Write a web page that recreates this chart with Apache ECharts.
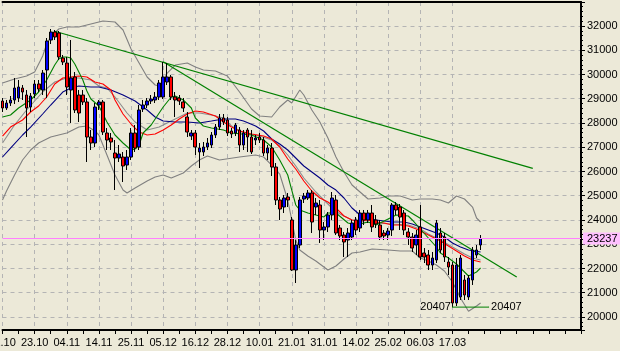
<!DOCTYPE html>
<html>
<head>
<meta charset="utf-8">
<title>Index chart</title>
<script src="https://cdn.jsdelivr.net/npm/echarts@6/dist/echarts.min.js"></script>
<style>
    html, body { margin: 0; padding: 0; background: #ECE9D8; }
    #stockCharts { width: 620px; height: 351px; }
</style>
</head>
<body>
<div id="stockCharts"></div>
<script>
// date labels, one every 8 bars
let tickLabels = ["11.10", "23.10", "04.11", "14.11", "25.11", "05.12", "16.12", "28.12",
    "10.01", "21.01", "31.01", "14.02", "25.02", "06.03", "17.03"];

// daily candles
let openPrices = [28907, 28618, 28824, 28948, 29030, 29443, 29154, 28659, 29195, 29608,
    29360, 30185, 31422, 31752, 31711, 30680, 30474, 29360, 29897, 29154,
    29154, 28866, 27422, 27175, 28742, 28866, 27587, 27381, 26762, 26556,
    26597, 26267, 26597, 27587, 27010, 28577, 28742, 28907, 28948, 29072,
    29072, 29690, 29897, 29072, 29030, 28866, 28247, 27463, 27587, 26804,
    26804, 27010, 27092, 27505, 27834, 28206, 28123, 27670, 27587, 27711,
    27092, 27711, 27422, 27298, 27422, 27298, 26762, 26968, 26185, 24824,
    24535, 24948, 24000, 21937, 22968, 24865, 24907, 25113, 24535, 24618,
    23587, 23711, 24206, 24824, 23669, 23380, 23174, 23298, 24000, 23669,
    24288, 24000, 24288, 24000, 23793, 23463, 23380, 23587, 24618, 24535,
    24288, 23504, 23298, 22968, 23711, 22638, 22556, 22143, 22350, 23463,
    23298, 22267, 22143, 20576, 20824, 21525, 20824, 21525, 22556, 22968];
let closePrices = [28618, 28824, 28948, 29443, 29484, 29278, 28618, 29113, 29608, 29402,
    30061, 31381, 31752, 31546, 30722, 30515, 29484, 29855, 28536, 28412,
    28866, 27422, 27175, 28659, 28866, 27628, 27298, 27216, 26556, 26721,
    26226, 26597, 27587, 26968, 28536, 28742, 28907, 28989, 29072, 29649,
    29897, 29897, 29072, 28948, 28907, 28618, 27628, 27587, 27010, 26968,
    27010, 27175, 27505, 27834, 28206, 28041, 27587, 27546, 27917, 27092,
    27587, 27422, 26804, 27381, 27298, 26762, 26968, 26185, 24824, 24453,
    24907, 24824, 21937, 22968, 24824, 24989, 25113, 23917, 24700, 23587,
    23711, 24206, 24907, 23463, 23339, 23092, 23463, 23876, 23587, 24288,
    24000, 24288, 23711, 23834, 23298, 23339, 23546, 24618, 24412, 24123,
    23587, 23298, 22844, 23380, 22473, 22473, 22143, 22432, 23876, 22762,
    22473, 22061, 20576, 22143, 22432, 20906, 21607, 22762, 22762, 23237];
let lowPrices = [28453, 28536, 28701, 28783, 28866, 28948, 27422, 28453, 29030, 29278,
    29154, 29030, 31257, 31422, 30598, 30391, 29154, 28000, 28412, 28041,
    28742, 26391, 26886, 27010, 28536, 27505, 26886, 26886, 25236, 26391,
    25566, 26061, 26474, 26804, 26886, 28453, 28618, 28783, 28824, 28948,
    28989, 29567, 28948, 28247, 28742, 28453, 27422, 27298, 26680, 26144,
    26639, 26886, 26968, 27381, 27711, 27917, 27463, 27381, 27463, 26804,
    26886, 26804, 26721, 27092, 27175, 26639, 26474, 25814, 24618, 24000,
    24288, 24535, 21900, 21401, 22844, 24700, 24824, 23463, 24206, 23051,
    23174, 23504, 24000, 23380, 23174, 22473, 22473, 23174, 23380, 23504,
    23793, 23876, 23504, 23669, 23174, 23174, 23174, 23339, 24206, 23587,
    23380, 22968, 22680, 22556, 22350, 22226, 21937, 21937, 22226, 22638,
    22267, 21731, 20407, 20452, 20700, 20700, 20700, 21319, 22432, 22762];
let highPrices = [29030, 28948, 29113, 29855, 29773, 29567, 29360, 29237, 29773, 29773,
    30185, 31505, 31876, 31835, 31794, 30804, 30722, 31422, 30103, 29360,
    29360, 29030, 27711, 28824, 28948, 28948, 27793, 27587, 27298, 27092,
    26804, 26886, 27793, 27917, 28742, 28948, 29030, 29154, 29278, 29773,
    30520, 30474, 29979, 29278, 29154, 29030, 28453, 27711, 27711, 27175,
    27216, 27381, 27628, 27958, 28371, 28371, 28247, 27793, 28000, 27834,
    27711, 27793, 27711, 27505, 27587, 27422, 27092, 27175, 26350, 24948,
    25030, 25113, 24123, 23174, 24948, 25113, 25236, 25236, 24907, 24824,
    23917, 24329, 25154, 25030, 23793, 23504, 23669, 24000, 24123, 24412,
    24412, 24412, 24618, 24206, 24000, 23587, 23669, 24700, 24741, 24659,
    24412, 23669, 23463, 23587, 24618, 22844, 22762, 22680, 24000, 23669,
    23463, 22473, 22267, 22432, 22556, 21731, 21731, 22886, 22968, 23380];

// indicator lines: [bar, value]
let maGreen = [[0, 28247], [2, 28329], [4, 28618], [7, 28948], [9, 29278], [10, 29525], [11, 29773],
    [13, 30391], [14, 30639], [15, 30722], [16, 30722], [17, 30680], [18, 30433], [19, 30103],
    [20, 29773], [21, 29319], [22, 28989], [24, 28701], [26, 28041], [28, 27505], [30, 27175],
    [32, 26886], [33, 26927], [34, 27092], [35, 27587], [37, 27917], [40, 28659], [42, 29072],
    [43, 29113], [45, 28948], [47, 28618], [48, 28206], [50, 27876], [52, 27793], [55, 27711],
    [57, 27587], [62, 27505], [65, 27298], [67, 27010], [69, 26474], [71, 25855], [72, 25236],
    [73, 24618], [74, 24412], [76, 24288], [78, 24206], [80, 24123], [81, 24288], [83, 24288],
    [86, 23876], [88, 23793], [91, 23917], [93, 23793], [95, 23958], [98, 24206], [101, 24165],
    [102, 24000], [104, 23628], [106, 23257], [108, 22886], [109, 22638], [111, 22432],
    [113, 22185], [115, 21855], [116, 21690], [118, 21855], [119, 22020]];
let maRed = [[0, 27463], [2, 27834], [5, 28123], [7, 28453], [9, 28701], [11, 29072], [13, 29608],
    [15, 29855], [17, 29897], [19, 29938], [21, 29897], [23, 29690], [25, 29608], [27, 29360],
    [28, 28948], [30, 28371], [32, 27958], [34, 27628], [36, 27505], [38, 27546], [40, 27711],
    [42, 27917], [44, 28165], [46, 28371], [48, 28494], [50, 28453], [53, 28288], [55, 28041],
    [57, 27834], [59, 27670], [62, 27546], [65, 27463], [67, 27340], [69, 27010], [71, 26515],
    [73, 26102], [75, 25608], [77, 25195], [79, 24907], [81, 24741], [83, 24494], [85, 24165],
    [87, 24000], [89, 23958], [91, 24000], [93, 23917], [95, 23876], [97, 23793], [99, 23793],
    [101, 23752], [103, 23628], [105, 23463], [107, 23298], [109, 23133], [111, 22927],
    [113, 22721], [115, 22515], [117, 22350], [119, 22267]];
let maBlue = [[0, 26598], [2, 26968], [5, 27505], [7, 27834], [10, 28371], [12, 28742], [15, 29278],
    [17, 29443], [19, 29525], [22, 29484], [24, 29484], [27, 29360], [30, 29154], [33, 28907],
    [36, 28536], [38, 28247], [40, 28082], [43, 28041], [46, 28041], [49, 28000], [52, 28082],
    [55, 28165], [58, 28165], [60, 28082], [63, 27876], [65, 27670], [67, 27340], [69, 27134],
    [71, 26886], [73, 26556], [75, 26226], [77, 25979], [79, 25731], [81, 25443], [83, 25236],
    [85, 24907], [87, 24494], [89, 24206], [91, 24082], [93, 24000], [95, 23958], [97, 23917],
    [100, 23917], [102, 23834], [104, 23711], [106, 23587], [108, 23463], [110, 23298],
    [112, 23051], [114, 22886], [116, 22762], [119, 22680]];
let bandMid = [[0, 27175], [3, 27917], [6, 28536], [8, 28907], [10, 29278], [13, 29690], [16, 29855],
    [19, 29855], [22, 29773], [24, 29525], [26, 29443], [28, 29072], [31, 28412], [33, 28041],
    [36, 27711], [39, 27834], [42, 28082], [46, 28412], [49, 28412], [52, 28329], [55, 28206],
    [57, 27876], [60, 27587], [64, 27463], [67, 27298], [69, 27051], [71, 26680], [73, 26226],
    [75, 25731], [78, 25154], [80, 24824], [82, 24494], [84, 24247], [87, 24000], [90, 23917],
    [93, 23876], [97, 23834], [101, 23793], [104, 23628], [106, 23422], [109, 23174],
    [112, 22886], [115, 22597], [117, 22432], [119, 22350]];
let bandUpper = [[0, 29649], [3, 29814], [6, 29938], [8, 30103], [10, 30763], [11, 31257], [12, 31546],
    [14, 31876], [16, 31959], [19, 31959], [22, 32082], [25, 32206], [28, 32165], [30, 31835],
    [32, 31051], [34, 30474], [36, 29897], [38, 29567], [39, 29525], [40, 29732], [41, 30061],
    [43, 30391], [46, 30474], [48, 30309], [50, 30185], [53, 30144], [56, 29938], [59, 29278],
    [62, 28577], [64, 28288], [67, 28247], [69, 28659], [71, 28948], [72, 28824], [74, 29360],
    [75, 29154], [77, 28536], [79, 28041], [81, 27381], [83, 26597], [85, 25979], [87, 25443],
    [89, 25154], [91, 24865], [94, 24907], [96, 24989], [99, 24989], [102, 24824], [104, 24865],
    [107, 24865], [109, 24824], [111, 24700], [113, 24989], [115, 24865], [117, 24535],
    [118, 24082], [119, 23917]];
let bandLower = [[0, 24824], [1, 25195], [3, 25855], [5, 26474], [7, 26886], [9, 27175], [12, 27422],
    [16, 27587], [19, 27834], [21, 27876], [23, 27670], [24, 27505], [26, 26680], [28, 25855],
    [30, 25236], [31, 25113], [33, 25319], [36, 25608], [38, 25772], [40, 25855], [42, 25731],
    [45, 25938], [47, 26226], [49, 26474], [51, 26639], [54, 26474], [59, 26598], [63, 26680],
    [65, 26598], [67, 26267], [69, 25896], [71, 24824], [73, 23174], [74, 22762], [76, 22515],
    [78, 22309], [80, 22061], [81, 21937], [83, 22103], [85, 22391], [87, 22638], [89, 22680],
    [92, 22803], [96, 22762], [99, 22721], [102, 22721], [104, 22432], [106, 22309], [108, 22143],
    [110, 21896], [112, 21443], [114, 20783], [116, 20236], [118, 20453], [119, 20576]];

// trend lines and marks
let trendTop = [[13, 31785], [132, 26127]];
let trendBottom = [[40, 30528], [128, 21649]];
let lastPrice = 23237;
let lowPrice = 20407;
let lowBars = [112, 121];

const BAR_SLOTS = 145;
const FONT = "'Liberation Sans', Arial, sans-serif";

function buildCategories() {
    let list = [];
    for (let i = 0; i < BAR_SLOTS; i++) {
        list.push(String(i));
    }
    return list;
}

function buildCandles() {
    let list = [];
    for (let i = 0; i < openPrices.length; i++) {
        list.push([openPrices[i], closePrices[i], lowPrices[i], highPrices[i]]);
    }
    return list;
}

function isLabelBar(index) {
    return index % 8 === 0 && index / 8 < tickLabels.length;
}

function lineSeries(name, data, color, width) {
    return {
        name: name,
        type: 'line',
        data: data,
        symbol: 'none',
        silent: true,
        lineStyle: {color: color, width: width || 1.1},
        z: 3
    };
}

let chartDom = document.getElementById('stockCharts');
let myChart = echarts.init(chartDom, null, {renderer: 'canvas'});

let option = {
    animation: false,
    backgroundColor: '#ECE9D8',
    textStyle: {fontFamily: FONT},
    grid: {
        left: 2.5,
        right: 39,
        top: 2,
        bottom: 21,
        outerBoundsMode: 'none'
    },
    xAxis: [{
        type: 'category',
        data: buildCategories(),
        boundaryGap: false,
        axisLine: {show: true, onZero: false, lineStyle: {color: '#000', width: 2}},
        axisTick: {
            show: true,
            length: 4,
            interval: function (index) {
                return index % 4 === 0;
            },
            lineStyle: {color: '#000'}
        },
        axisLabel: {
            color: '#000',
            fontSize: 11,
            fontFamily: FONT,
            margin: 7,
            showMinLabel: true,
            alignMinLabel: 'center',
            hideOverlap: false,
            interval: function (index) {
                return isLabelBar(index);
            },
            formatter: function (value, index) {
                return isLabelBar(index) ? tickLabels[index / 8] : '';
            }
        },
        splitLine: {
            show: true,
            interval: function (index) {
                return isLabelBar(index);
            },
            lineStyle: {color: '#B4B4B4', type: [4, 4], width: 1}
        }
    }, {
        // top border line
        type: 'category',
        position: 'top',
        data: buildCategories(),
        boundaryGap: false,
        axisLine: {show: true, onZero: false, lineStyle: {color: '#000', width: 2}},
        axisTick: {show: false},
        axisLabel: {show: false},
        splitLine: {show: false}
    }],
    yAxis: {
        type: 'value',
        position: 'right',
        min: 19463,
        max: 32990,
        splitNumber: 13,
        minInterval: 1000,
        maxInterval: 1000,
        axisLine: {show: true, lineStyle: {color: '#000', width: 2}},
        axisTick: {show: true, length: 4, lineStyle: {color: '#000'}},
        minorTick: {show: true, splitNumber: 5, length: 2, lineStyle: {color: '#000'}},
        axisLabel: {
            color: '#000',
            fontSize: 11,
            fontFamily: FONT,
            margin: 6,
            showMinLabel: false,
            showMaxLabel: false,
            formatter: function (value) {
                return String(value);
            }
        },
        splitLine: {show: true, lineStyle: {color: '#B4B4B4', type: [4, 4], width: 1}}
    },
    series: [
        lineSeries('bandUpper', bandUpper, '#808080'),
        lineSeries('bandLower', bandLower, '#808080'),
        lineSeries('bandMid', bandMid, '#8C8C8C'),
        {
            name: 'price',
            type: 'candlestick',
            data: buildCandles(),
            barWidth: 3.2,
            z: 4,
            itemStyle: {
                color: '#0000FF',
                color0: '#FF0000',
                borderColor: '#000',
                borderColor0: '#000',
                borderWidth: 1
            },
            markLine: {
                silent: true,
                symbol: 'none',
                lineStyle: {color: '#FF80FF', type: 'solid', width: 1},
                label: {
                    show: true,
                    position: 'end',
                    distance: 2,
                    formatter: String(lastPrice),
                    color: '#000',
                    fontSize: 11,
                    fontFamily: FONT,
                    backgroundColor: '#FFC0FF',
                    padding: [1, 3, 0, 4]
                },
                data: [{yAxis: lastPrice}]
            }
        },
        lineSeries('maBlue', maBlue, '#000080'),
        lineSeries('maRed', maRed, '#FF0000'),
        lineSeries('maGreen', maGreen, '#008000'),
        lineSeries('trendTop', trendTop, '#008000', 1.2),
        lineSeries('trendBottom', trendBottom, '#008000', 1.2),
        {
            name: 'lowLine',
            type: 'line',
            symbol: 'circle',
            symbolSize: 1,
            showSymbol: true,
            silent: true,
            z: 5,
            itemStyle: {color: '#008000'},
            lineStyle: {color: '#008000', width: 1},
            label: {color: '#000', fontSize: 11, fontFamily: FONT, formatter: String(lowPrice)},
            data: [
                {value: [lowBars[0], lowPrice], label: {show: true, position: 'left', distance: 1}},
                {value: [lowBars[1], lowPrice], label: {show: true, position: 'right', distance: 2}}
            ]
        }
    ]
};

option && myChart.setOption(option);
</script>
</body>
</html>
